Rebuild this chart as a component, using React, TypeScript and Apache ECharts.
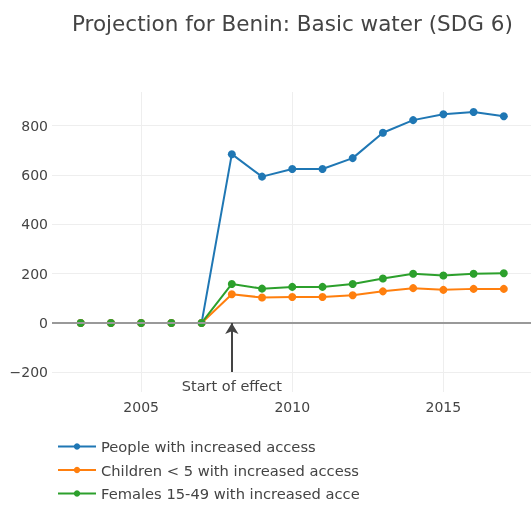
import React, { useEffect, useRef } from "react";
import * as echarts from "echarts";

const years = [2003, 2004, 2005, 2006, 2007, 2008, 2009, 2010, 2011, 2012, 2013, 2014, 2015, 2016, 2017];
const people = [0, 0, 0, 0, 0, 684, 593, 624, 624, 668, 771, 822, 846, 855, 838];
const children = [0, 0, 0, 0, 0, 116, 103, 105, 105, 112, 128, 141, 134, 138, 138];
const females = [0, 0, 0, 0, 0, 158, 139, 146, 146, 158, 180, 199, 192, 199, 201];
const seriesNames = [
  "People with increased access",
  "Children < 5 with increased access",
  "Females 15-49 with increased access",
];
const colors = ["#1f77b4", "#ff7f0e", "#2ca02c"];
const effectYear = 2008;
const annotationText = "Start of effect";

const FONT = "DejaVu Sans";

export default function App() {
  const ref = useRef<HTMLDivElement>(null);
  useEffect(() => {
    if (!ref.current) return;
    const chart = echarts.init(ref.current, null, { renderer: "svg" });
    const mk = (name: string, vals: number[], color: string, extra: any = {}) => ({
      name,
      type: "line",
      data: years.map((y, i) => [y, vals[i]]),
      symbol: "circle",
      symbolSize: 8,
      lineStyle: { color, width: 2 },
      itemStyle: { color },
      ...extra,
    });
    chart.setOption({
      animation: false,
      color: colors,
      textStyle: { fontFamily: FONT },
      title: {
        text: "Projection for Benin: Basic water (SDG 6)",
        left: 72,
        top: 12,
        padding: 0,
        textStyle: { fontFamily: FONT, fontSize: 21.5, fontWeight: "normal", color: "#444" },
      },
      grid: { left: 52, right: 0, top: 92, bottom: 113, containLabel: false },
      xAxis: {
        type: "value",
        min: 2002.05,
        max: 2017.9,
        splitNumber: 3,
        axisLine: { show: false, onZero: false },
        axisTick: { show: false },
        axisLabel: {
          color: "#444",
          fontSize: 14,
          fontFamily: FONT,
          margin: 8,
          showMinLabel: false,
          showMaxLabel: false,
          formatter: (v: number) => String(v),
        },
        splitLine: { show: true, showMinLine: false, showMaxLine: false, lineStyle: { color: "#eeeeee", width: 1 } },
      },
      yAxis: {
        type: "value",
        min: -280,
        max: 936,
        splitNumber: 6,
        axisLine: { show: false },
        axisTick: { show: false },
        axisLabel: {
          color: "#444",
          fontSize: 14,
          fontFamily: FONT,
          margin: 4,
          showMinLabel: false,
          showMaxLabel: false,
          formatter: (v: number) => String(v).replace("-", "\u2212"),
        },
        splitLine: { show: true, showMinLine: false, showMaxLine: false, lineStyle: { color: "#eeeeee", width: 1 } },
      },
      legend: {
        orient: "vertical",
        left: 57,
        top: 439,
        padding: 0,
        itemWidth: 38,
        itemHeight: 8,
        itemGap: 8.5,
        data: seriesNames,
        textStyle: {
          color: "#444",
          fontSize: 14.7,
          fontFamily: FONT,
          width: 262,
          overflow: "truncate",
          ellipsis: "",
        },
      },
      series: [
        mk(seriesNames[0], people, colors[0], {
          markLine: {
            silent: true,
            symbol: "none",
            label: { show: false },
            lineStyle: { color: "#999999", width: 2, type: "solid" },
            data: [{ yAxis: 0 }],
          },
        }),
        mk(seriesNames[1], children, colors[1], {
          markLine: {
            silent: true,
            symbol: ["none", "arrow"],
            symbolSize: [10, 11],
            lineStyle: { color: "#444444", width: 2, type: "solid" },
            label: {
              show: true,
              position: "start",
              formatter: annotationText,
              color: "#444",
              fontSize: 14.5,
              fontFamily: FONT,
              distance: 6,
            },
            data: [[{ coord: [effectYear, -199] }, { coord: [effectYear, 0] }]],
          },
        }),
        mk(seriesNames[2], females, colors[2]),
      ],
    });
    return () => chart.dispose();
  }, []);
  return <div ref={ref} style={{ position: "fixed", left: 0, top: 0, width: 531, height: 505 }} />;
}
